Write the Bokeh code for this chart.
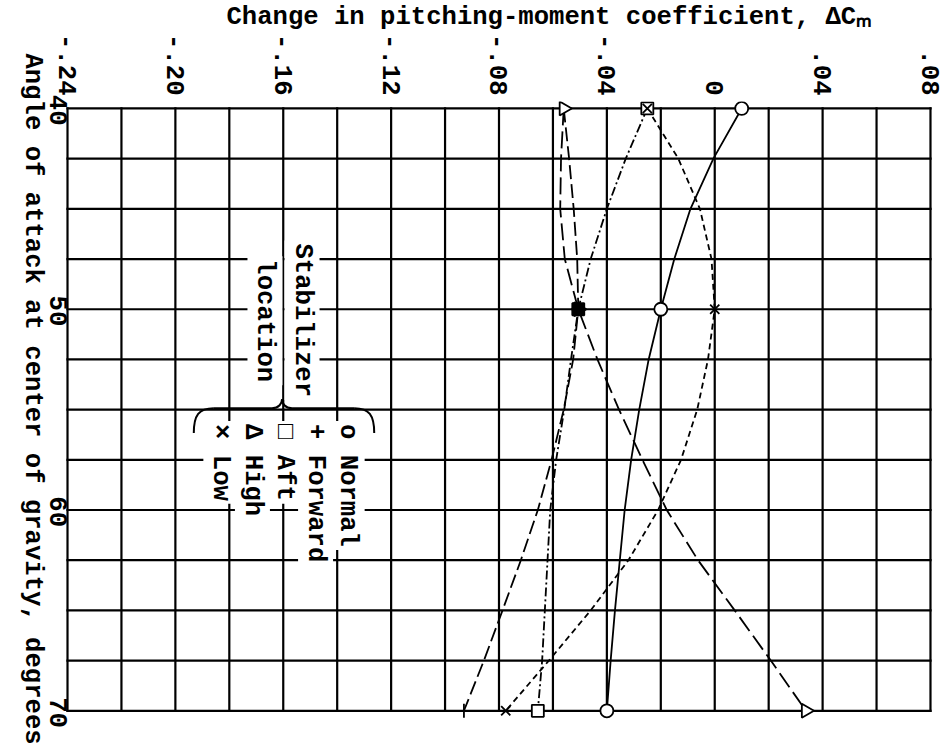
import math
from bokeh.plotting import figure
from bokeh.models import Range1d, FixedTicker, Label, ColumnDataSource, LinearAxis
from bokeh.embed import file_html
from bokeh.resources import INLINE

# ---------------- data ----------------
x_ticks = [-0.24, -0.20, -0.16, -0.12, -0.08, -0.04, 0.0, 0.04, 0.08]
x_tick_labels = ["-.24", "-.20", "-.16", "-.12", "-.08", "-.04", "0", ".04", ".08"]
y_ticks = [40, 50, 60, 70]
y_tick_labels = ["40", "50", "60", "70"]

# faired curves, read at every 2.5 deg grid line
curve_alpha = [40, 42.5, 45, 47.5, 50, 52.5, 55, 57.5, 60, 62.5, 65, 67.5, 70]
normal_curve = [0.010, -0.0005, -0.0090, -0.0150, -0.020, -0.0245, -0.0280, -0.0310, -0.0334, -0.0352, -0.0370, -0.0386, -0.040]
forward_curve = [-0.056, -0.0540, -0.0523, -0.0510, -0.0506, -0.0525, -0.0560, -0.0605, -0.0656, -0.0719, -0.0787, -0.0856, -0.093]
aft_curve = [-0.025, -0.033, -0.040, -0.0460, -0.0506, -0.0533, -0.0558, -0.0588, -0.061, -0.062, -0.063, -0.064, -0.0656]
high_curve = [-0.056, -0.057, -0.0573, -0.0556, -0.0506, -0.0435, -0.0355, -0.0268, -0.0178, -0.0062, 0.0074, 0.0208, 0.0338]
low_curve = [-0.025, -0.0135, -0.0055, -0.0012, 0.0, -0.0025, -0.0065, -0.0125, -0.021, -0.032, -0.046, -0.0615, -0.0775]

# test points (symbols)
normal_pts_alpha = [40, 50, 70]
normal_pts = [0.010, -0.020, -0.040]
forward_pts_alpha = [50, 70]
forward_pts = [-0.0506, -0.093]
aft_pts_alpha = [40, 50, 70]
aft_pts = [-0.025, -0.0506, -0.0656]
high_pts_alpha = [40, 50, 70]
high_pts = [-0.056, -0.0506, 0.0338]
low_pts_alpha = [40, 50, 70]
low_pts = [-0.025, 0.0, -0.0775]

legend_symbols = ["o", "+", "\u25a1", "\u0394", "\u00d7"]
legend_names = ["Normal", "Forward", "Aft", "High", "Low"]

title_text = "Change in pitching-moment coefficient, \u0394C\u2098"
ylabel_text = "Angle of attack at center of gravity, degrees"
legend_title = ["Stabilizer", "location"]

# ---------------- figure ----------------
FONT = "Liberation Mono"
FS = "25.6px"
PX_PER_UNIT = 2690.6     # horizontal scale, px per unit of delta Cm
PX_PER_DEG = 20.23       # vertical scale, px per degree
PADX_L = 3 / PX_PER_UNIT
PADX_R = 7 / PX_PER_UNIT   # room so symbols on the border are not clipped
PADY_TOP = 7 / PX_PER_DEG
PADY_BOT = 38 / PX_PER_DEG

p = figure(width=942, height=748,
           x_range=Range1d(-0.24 - PADX_L, 0.08 + PADX_R), y_range=Range1d(70 + PADY_BOT, 40 - PADY_TOP),
           x_axis_location="above", y_axis_location=None,
           output_backend="svg", toolbar_location=None,
           min_border_left=62, min_border_right=5, min_border_top=96, min_border_bottom=0)
p.background_fill_color = "white"
p.border_fill_color = "white"
p.outline_line_color = None
p.grid.visible = False

p.title.text = title_text
p.title.align = "left"
p.title.offset = 162
p.title.standoff = 0
p.title.text_font = FONT
p.title.text_font_size = FS
p.title.text_font_style = "bold"
p.title.text_color = "black"

# top axis
xa = p.xaxis[0]
xa.ticker = FixedTicker(ticks=x_ticks)
xa.major_label_overrides = {t: l for t, l in zip(x_ticks, x_tick_labels)}

# left axis (its labels sit just below each line, as printed)
LAB_SHIFT = 0.85
p.extra_y_ranges = {"lab": Range1d(70 + PADY_BOT - LAB_SHIFT, 40 - PADY_TOP - LAB_SHIFT)}
ya = LinearAxis(y_range_name="lab", ticker=FixedTicker(ticks=y_ticks),
                major_label_overrides={t: l for t, l in zip(y_ticks, y_tick_labels)})
p.add_layout(ya, "left")

# axis title, read top to bottom, ending near the bottom of the page
ylabel_end = 40 + (744 - 103) / PX_PER_DEG
ta = LinearAxis(ticker=FixedTicker(ticks=[ylabel_end]),
                major_label_overrides={ylabel_end: ylabel_text})
p.add_layout(ta, "left")

for ax in (xa, ya, ta):
    ax.axis_line_color = None
    ax.major_tick_line_color = None
    ax.minor_tick_line_color = None
    ax.major_label_text_font = FONT
    ax.major_label_text_font_size = FS
    ax.major_label_text_font_style = "bold"
    ax.major_label_text_color = "black"
    ax.major_label_orientation = -math.pi / 2
    ax.major_label_standoff = 0

# ---------------- grid (drawn as segments so the box ends exactly at the border) ----------------
grid_x = [round(-0.24 + 0.02 * i, 2) for i in range(17)]
grid_y = [40 + 2.5 * i for i in range(13)]
p.segment(x0=grid_x, y0=[40] * len(grid_x), x1=grid_x, y1=[70] * len(grid_x),
          line_color="black", line_width=2.2, line_cap="square")
p.segment(x0=[-0.24] * len(grid_y), y0=grid_y, x1=[0.08] * len(grid_y), y1=grid_y,
          line_color="black", line_width=2.2, line_cap="square")

# ---------------- curves ----------------
LW = 1.8
p.line(normal_curve, curve_alpha, line_color="black", line_width=LW)
p.line(forward_curve, curve_alpha, line_color="black", line_width=LW, line_dash="14 5")
p.line(aft_curve, curve_alpha, line_color="black", line_width=LW, line_dash="9 3 2 3")
p.line(high_curve, curve_alpha, line_color="black", line_width=LW, line_dash="17 6")
p.line(low_curve, curve_alpha, line_color="black", line_width=LW, line_dash="6 4")

# ---------------- symbols ----------------
# where Aft, Forward and High points coincide the printed square is inked solid
def _coincide(a, v, alphas, vals):
    return any(abs(a - aa) < 1e-9 and abs(v - vv) < 1e-3 for aa, vv in zip(alphas, vals))

aft_fill = ["black" if (_coincide(a, v, forward_pts_alpha, forward_pts) and _coincide(a, v, high_pts_alpha, high_pts))
            else "white" for a, v in zip(aft_pts_alpha, aft_pts)]
p.scatter(normal_pts, normal_pts_alpha, marker="circle", size=13, line_color="black", line_width=1.8, fill_color="white")
p.scatter(high_pts, high_pts_alpha, marker="triangle", angle=-math.pi / 2, size=14, line_color="black", line_width=1.8, fill_color="white")
p.scatter(forward_pts, forward_pts_alpha, marker="cross", size=14, line_color="black", line_width=1.8)
p.scatter(aft_pts, aft_pts_alpha, marker="square", size=12, line_color="black", line_width=1.8, fill_color=aft_fill)
p.scatter(low_pts, low_pts_alpha, marker="x", size=13, line_color="black", line_width=1.8)

# ---------------- helpers for screen-placed annotations ----------------
def fx(px):
    return -0.24 + (px - 69) / PX_PER_UNIT

def fy(py):
    return 40 + (py - 103) / PX_PER_DEG

def rot_label(text, px, py):
    lab = Label(x=fx(px), y=fy(py), text=text, angle=-math.pi / 2,
                text_font=FONT, text_font_size=FS, text_font_style="bold",
                text_color="black", text_align="left", text_baseline="middle",
                background_fill_color="white")
    lab.padding = 3
    p.add_layout(lab)

# legend block
rot_label(legend_title[0], 303, 236)
rot_label(legend_title[1], 266, 252)
legend_px = [348, 316.5, 285, 253.5, 222]
for sym, name, px in zip(legend_symbols, legend_names, legend_px):
    rot_label(sym + " " + name, px, 418)

# brace
bz = dict(
    x0=[fx(195), fx(273), fx(283), fx(355)],
    y0=[fy(430), fy(405), fy(396), fy(405)],
    x1=[fx(215), fx(283), fx(293), fx(375)],
    y1=[fy(405), fy(396), fy(405), fy(430)],
    cx0=[fx(195), fx(280), fx(283), fx(370)],
    cy0=[fy(412), fy(405), fy(400), fy(405)],
    cx1=[fx(200), fx(283), fx(286), fx(375)],
    cy1=[fy(405), fy(400), fy(405), fy(412)],
)
p.bezier(x0="x0", y0="y0", x1="x1", y1="y1", cx0="cx0", cy0="cy0", cx1="cx1", cy1="cy1",
         source=ColumnDataSource(bz), line_color="black", line_width=2)
p.segment(x0=[fx(215), fx(293)], y0=[fy(405), fy(405)], x1=[fx(273), fx(355)], y1=[fy(405), fy(405)],
          line_color="black", line_width=2)

open("out.html", "w").write(file_html(p, INLINE))
